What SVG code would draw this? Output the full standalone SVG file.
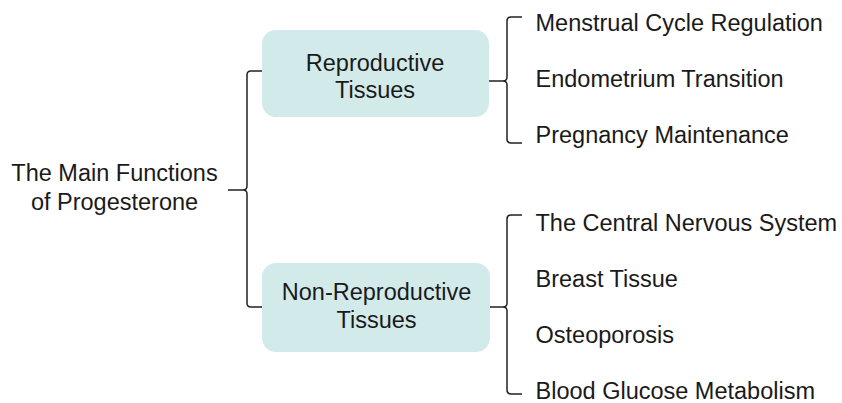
<svg xmlns="http://www.w3.org/2000/svg" width="842" height="403" viewBox="0 0 842 403">
<style>
text{font-family:"Liberation Sans",Arial,sans-serif;font-size:23.5px;fill:#1a1a1a}
.c{text-anchor:middle}
.box{fill:#d3eaea;stroke:none}
.br{fill:none;stroke:#222;stroke-width:1.5}
</style>
<rect width="842" height="403" fill="#fff"/>
<g id="root">
<text class="c" x="114.5" y="181">The Main Functions</text>
<text class="c" x="114.5" y="210">of Progesterone</text>
</g>
<g id="reproductive">
<rect class="box" x="262" y="30" width="227" height="87" rx="14"/>
<text class="c" x="375" y="71">Reproductive</text>
<text class="c" x="375" y="98">Tissues</text>
</g>
<g id="non-reproductive">
<rect class="box" x="262" y="263" width="228" height="89" rx="14"/>
<text class="c" x="376.5" y="300">Non-Reproductive</text>
<text class="c" x="376.5" y="328">Tissues</text>
</g>
<g id="menstrual"><text x="535.5" y="31">Menstrual Cycle Regulation</text></g>
<g id="endometrium"><text x="535.5" y="87">Endometrium Transition</text></g>
<g id="pregnancy"><text x="535.5" y="142.5">Pregnancy Maintenance</text></g>
<g id="cns"><text x="535.5" y="231">The Central Nervous System</text></g>
<g id="breast"><text x="535.5" y="287">Breast Tissue</text></g>
<g id="osteo"><text x="535.5" y="343">Osteoporosis</text></g>
<g id="glucose"><text x="535.5" y="399">Blood Glucose Metabolism</text></g>
<g id="connectors">
<path class="br" d="M262,71 H251 Q247,71 247,75 V186 Q247,190 243,190 H228 M243,190 Q247,190 247,194 V303 Q247,307 251,307 H262"/>
<path class="br" d="M489,81 H503 Q507,81 507,77 V21 Q507,17 511,17 H522 M503,81 Q507,81 507,85 V139 Q507,143 511,143 H522"/>
<path class="br" d="M490,307 H503 Q507,307 507,303 V219 Q507,215 511,215 H522 M503,307 Q507,307 507,311 V390 Q507,394 511,394 H522"/>
</g>
</svg>
